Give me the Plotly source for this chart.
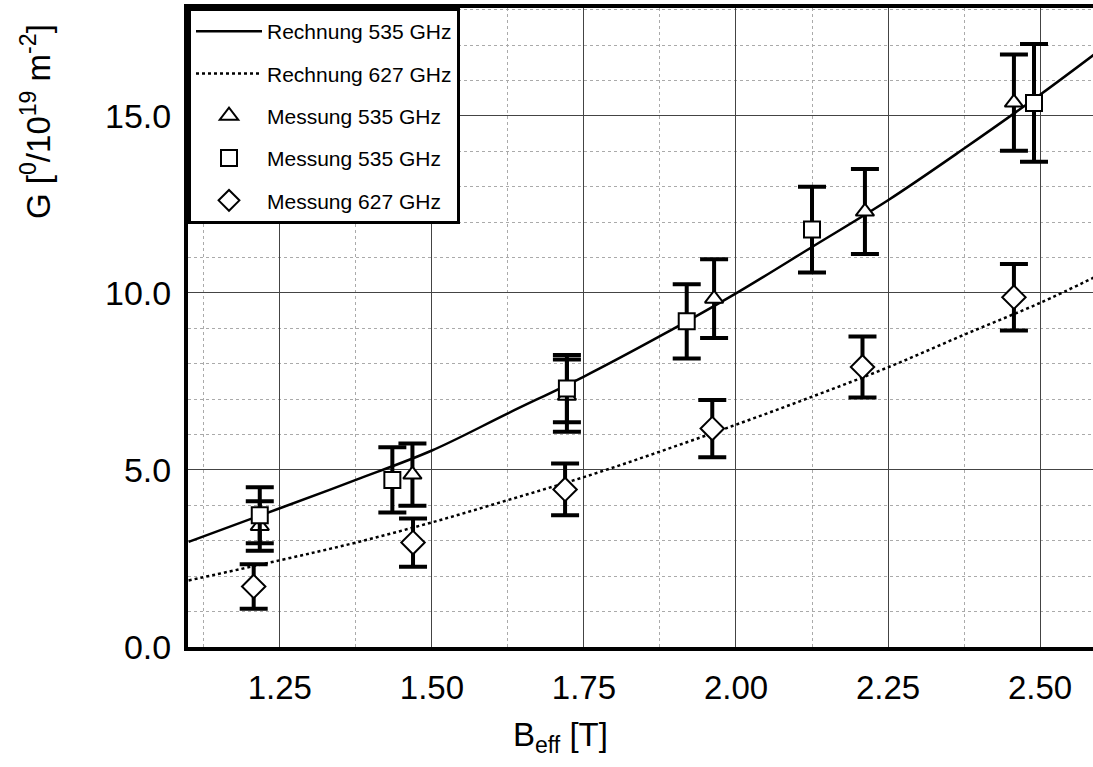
import plotly.graph_objects as go

# ---- data ----
B_calc = [1.10, 1.25, 1.375, 1.50, 1.625, 1.75, 1.875, 2.00, 2.125, 2.25, 2.375, 2.50, 2.59]
G_calc_535 = [2.97, 3.92, 4.72, 5.55, 6.60, 7.64, 8.78, 9.99, 11.30, 12.62, 14.08, 15.60, 16.75]
G_calc_627 = [1.88, 2.45, 2.95, 3.52, 4.15, 4.80, 5.52, 6.28, 7.07, 7.90, 8.82, 9.72, 10.45]

B_tri = [1.217, 1.468, 1.722, 1.964, 2.212, 2.457]
G_tri = [3.42, 4.87, 7.10, 9.84, 12.30, 15.38]
E_tri = [0.70, 0.88, 1.02, 1.11, 1.20, 1.36]

B_sq = [1.217, 1.435, 1.722, 1.919, 2.125, 2.490]
G_sq = [3.72, 4.72, 7.30, 9.20, 11.79, 15.37]
E_sq = [0.79, 0.92, 0.95, 1.05, 1.21, 1.66]

B_dia = [1.207, 1.469, 1.719, 1.961, 2.208, 2.457]
G_dia = [1.71, 2.95, 4.45, 6.17, 7.91, 9.88]
E_dia = [0.63, 0.68, 0.73, 0.81, 0.86, 0.94]

x_ticks = [1.25, 1.50, 1.75, 2.00, 2.25, 2.50]
x_ticklabels = ["1.25", "1.50", "1.75", "2.00", "2.25", "2.50"]
y_ticks = [0, 5, 10, 15]
y_ticklabels = ["0.0", "5.0", "10.0", "15.0"]

FONT = "Liberation Sans, Arial, Helvetica, sans-serif"

fig = go.Figure()

fig.add_trace(go.Scatter(
    x=B_calc, y=G_calc_535, mode="lines", name="Rechnung 535 GHz",
    line=dict(color="black", width=2.5, shape="spline"), legendgroup="a"))
fig.add_trace(go.Scatter(
    x=B_calc, y=G_calc_627, mode="lines", name="Rechnung 627 GHz",
    line=dict(color="black", width=2.5, dash="dot", shape="spline"), legendgroup="b"))

err_style = dict(type="data", visible=True, color="black", thickness=4, width=14)

fig.add_trace(go.Scatter(
    x=B_tri, y=G_tri, mode="markers", name="Messung 535 GHz", legendgroup="c",
    error_y=dict(array=E_tri, **err_style),
    marker=dict(symbol="triangle-up", size=16, color="white",
                line=dict(color="black", width=2))))
fig.add_trace(go.Scatter(
    x=B_sq, y=G_sq, mode="markers", name="Messung 535 GHz", legendgroup="d",
    error_y=dict(array=E_sq, **err_style),
    marker=dict(symbol="square", size=16, color="white",
                line=dict(color="black", width=2))))
fig.add_trace(go.Scatter(
    x=B_dia, y=G_dia, mode="markers", name="Messung 627 GHz", legendgroup="e",
    error_y=dict(array=E_dia, **err_style),
    marker=dict(symbol="diamond", size=18, color="white",
                line=dict(color="black", width=2))))

fig.update_layout(
    width=1093, height=767,
    margin=dict(l=188, r=0, t=8, b=120),
    paper_bgcolor="white", plot_bgcolor="white",
    font=dict(family=FONT, color="black"),
    showlegend=True,
    legend=dict(
        x=0, y=1, xanchor="left", yanchor="top",
        bgcolor="white", bordercolor="black", borderwidth=3,
        font=dict(family=FONT, size=21, color="black"),
        tracegroupgap=12, itemwidth=66,
    ),
    xaxis=dict(
        range=[1.099, 2.587],
        tickvals=x_ticks, ticktext=x_ticklabels,
        tickfont=dict(family=FONT, size=33, color="black"),
        ticks="", ticklabelstandoff=8,
        showgrid=True, gridcolor="#444444", gridwidth=1,
        minor=dict(dtick=0.125, tick0=1.125, showgrid=True,
                   gridcolor="#aaaaaa", griddash="dot", gridwidth=1),
        showline=True, linecolor="black", linewidth=4, mirror=True,
        zeroline=False,
    ),
    yaxis=dict(
        range=[0, 18.05],
        tickvals=y_ticks, ticktext=y_ticklabels,
        tickfont=dict(family=FONT, size=34, color="black"),
        ticks="", ticklabelstandoff=6,
        showgrid=True, gridcolor="#444444", gridwidth=1,
        minor=dict(dtick=1, tick0=0, showgrid=True,
                   gridcolor="#aaaaaa", griddash="dot", gridwidth=1),
        showline=True, linecolor="black", linewidth=4, mirror=False,
        zeroline=False,
    ),
    annotations=[
        dict(text="G [<sup>0</sup>/10<sup>19</sup> m<sup>-2</sup>]",
             textangle=-90, xref="paper", yref="paper",
             x=(36 - 188) / 905, y=(647 - 122) / 639,
             xanchor="center", yanchor="middle", showarrow=False,
             font=dict(family=FONT, size=33, color="black")),
        dict(text="B<sub>eff</sub> [T]",
             xref="paper", yref="paper",
             x=(560 - 188) / 905, y=(647 - 737) / 639,
             xanchor="center", yanchor="middle", showarrow=False,
             font=dict(family=FONT, size=33, color="black")),
    ],
)

fig.write_html("out.html")
